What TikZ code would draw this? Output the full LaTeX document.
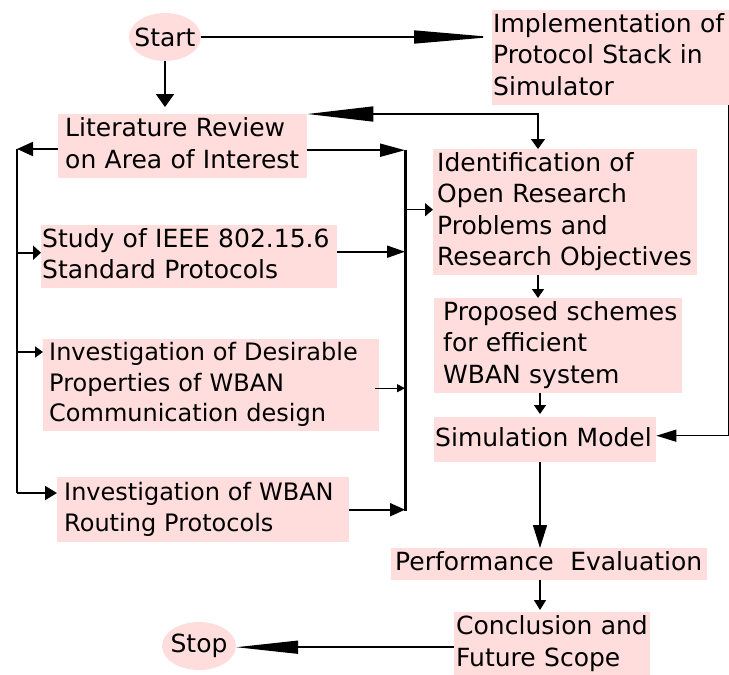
\documentclass[tikz,border=0pt]{standalone}
\usepackage{fontspec}
\setmainfont{DejaVu Sans}
\usetikzlibrary{arrows.meta,shapes.geometric}
\definecolor{boxpink}{RGB}{255,221,221}
% left-aligned block of lines with a left indent
\newcommand\boxlines[2]{\begin{tabular}{@{\hspace{#1}}l@{}}#2\end{tabular}}
\begin{document}
\begin{tikzpicture}[x=1pt,y=-1pt,
  every node/.style={font=\fontsize{25}{31.5}\selectfont},
  smalltext/.style={font=\fontsize{24}{30.5}\selectfont},
  box/.style={fill=boxpink, anchor=north west, align=left, inner xsep=0pt, inner ysep=0pt},
  term/.style={ellipse, fill=boxpink, inner sep=0pt},
  conn/.style={line width=1.5pt},
  bus/.style={line width=2.6pt},
]
\useasboundingbox (0,0) rectangle (729,675);

% terminals
\node[term, minimum width=72pt, minimum height=48pt] (start) at (165,37) {\makebox[0pt]{Start}};
\node[term, minimum width=74pt, minimum height=48pt] (stop) at (199,646) {\makebox[0pt]{Stop}};

% process boxes
\node[box, text width=237pt, minimum height=88pt] (impl) at (492,10)
  {\boxlines{1pt}{Implementation of\\Protocol Stack in\\Simulator}};
\node[box, text width=249pt, minimum height=64pt] (lit) at (58,114)
  {\boxlines{7pt}{Literature Review\\on Area of Interest}};
\node[box, text width=296pt, minimum height=63pt] (study) at (41,225)
  {\boxlines{1pt}{Study of IEEE 802.15.6\\Standard Protocols}};
\node[box, smalltext, text width=336pt, minimum height=92pt] (desir) at (43,339)
  {\boxlines{6pt}{Investigation of Desirable\\Properties of WBAN\\Communication design}};
\node[box, font=\fontsize{24}{31}\selectfont, text width=292pt, minimum height=65pt] (rout) at (57,477)
  {\boxlines{7pt}{Investigation of WBAN\\Routing Protocols}};
\node[box, text width=264pt, minimum height=125pt] (ident) at (433,149)
  {\boxlines{4pt}{Identification of\\Open Research\\Problems and\\Research Objectives}};
\node[box, text width=248pt, minimum height=94pt] (prop) at (434,298)
  {\boxlines{9pt}{Proposed schemes\\for efficient\\WBAN system}};
\node[box, text width=222pt, minimum height=45pt] (sim) at (434,417)
  {\boxlines{1pt}{Simulation Model}};
\node[box, text width=316pt, minimum height=31pt] (perf) at (391,548)
  {\boxlines{4pt}{Performance\ \ Evaluation}};
\node[box, text width=196pt, minimum height=64pt] (concl) at (454,612)
  {\boxlines{2pt}{Conclusion and\\Future Scope}};

% bus and column coordinates
\coordinate (lt) at (17,149);
\coordinate (lb) at (17,493);
\coordinate (rt) at (405,150);
\coordinate (rb) at (405,511);
\coordinate (col) at (540,0);
\coordinate (idcol) at (538,0);
\coordinate (stdin) at ([yshift=4pt]study.west);
\coordinate (dsin) at ([yshift=-13pt]desir.north west);
\coordinate (lout) at ([yshift=-4pt]lit.east);
\coordinate (sout) at ([yshift=5pt]study.east);
\coordinate (dout) at ([xshift=-4pt,yshift=-3pt]desir.east);
\coordinate (iin) at ([yshift=2.5pt]ident.west);
\coordinate (simin) at ([yshift=4pt]sim.east);
\coordinate (cout) at ([yshift=-3pt]concl.west);

% start connections
\draw[conn, -{Triangle[length=78pt,width=13pt]}] (start.east) -- (start.east -| impl.west);
\draw[line width=2pt, shorten >=7pt, -{Triangle[length=13pt,width=18pt]}] (start.south) -- (start.south |- lit.north);

% literature review to identification
\draw[conn, {Triangle[length=66pt,width=15pt]}-{Triangle[length=10pt,width=14pt]}]
  (lit.north east) -- (lit.north east -| idcol) -- (idcol |- ident.north);

% left distribution bus
\draw[line width=2pt, -{Triangle[length=16pt,width=14pt]}] (lt -| lit.west) -- (lt);
\draw[bus] (lt) -- (lb);
\draw[line width=2pt, -{Triangle[length=8pt,width=14pt]}] (stdin -| lt) -- (stdin);
\draw[conn, -{Triangle[length=8pt,width=11pt]}] (dsin -| lt) -- (dsin);
\draw[line width=2pt, -{Triangle[length=12pt,width=14pt]}] (lb) -- (lb -| rout.west);

% right collecting bus
\draw[line width=2pt, -{Triangle[length=25pt,width=13pt]}] (lout) -- (lout -| rt);
\draw[line width=2pt, -{Triangle[length=18pt,width=12pt]}] (sout) -- (sout -| rt);
\draw[line width=1pt, -{Triangle[length=8pt,width=8pt]}] (dout) -- (dout -| rt);
\draw[line width=2pt, -{Triangle[length=15pt,width=13pt]}] (rout.east) -- (rout.east -| rt);
\draw[line width=3pt] (rt) -- (rb);
\draw[conn, -{Triangle[length=8pt,width=13pt]}] (iin -| rt) -- (iin);

% main column
\draw[conn, -{Triangle[length=9pt,width=12pt]}] (ident.south -| idcol) -- (prop.north -| idcol);
\draw[conn, shorten >=3pt, -{Triangle[length=9pt,width=12pt]}] (prop.south -| col) -- (sim.north -| col);
\draw[conn, -{Triangle[length=20pt,width=12pt]}] ([xshift=-1pt]impl.south east) |- (simin);
\draw[conn, -{Triangle[length=23pt,width=14pt]}] (sim.south -| col) -- (perf.north -| col);
\draw[conn, shorten >=2pt, -{Triangle[length=10pt,width=12pt]}] (perf.south -| col) -- (concl.north -| col);
\draw[conn, -{Triangle[length=62pt,width=13pt]}] (cout) -- (cout -| stop.east);
\end{tikzpicture}
\end{document}
